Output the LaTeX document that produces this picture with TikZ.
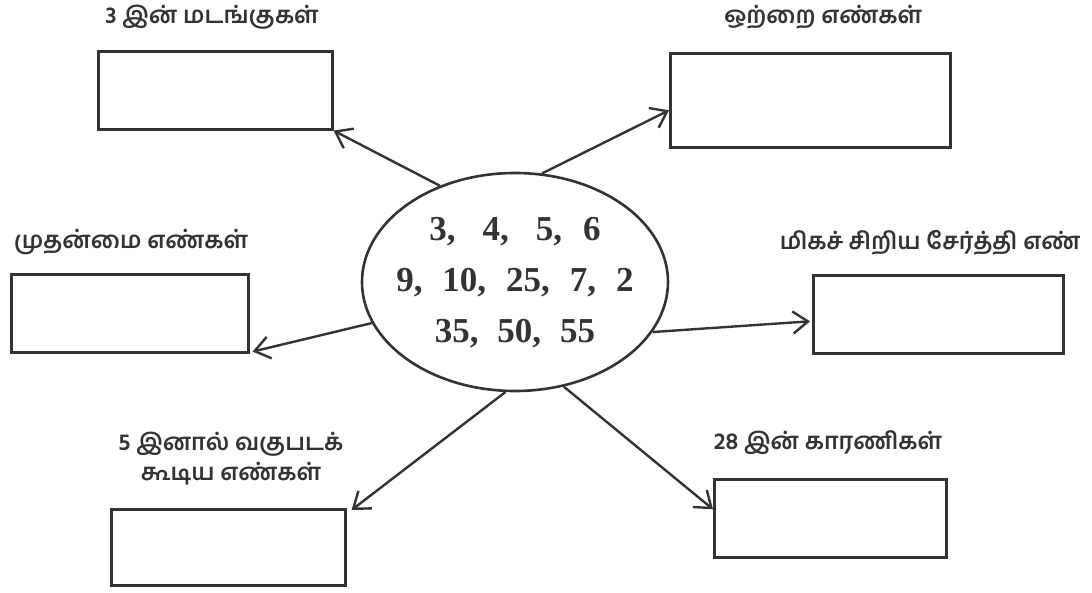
\documentclass[tikz,border=0pt]{standalone}
\usepackage{fontspec}
\usetikzlibrary{shapes.geometric,arrows.meta,calc}
\setmainfont{Liberation Serif}
\newfontfamily\tamilfont[Script=Tamil]{Hind Madurai}
\definecolor{ink}{HTML}{333333}
\begin{document}
\begin{tikzpicture}[x=1pt,y=-1pt,
  box/.style={draw=ink,line width=2.6pt,rectangle,inner sep=0pt,anchor=north west},
  lbl/.style={text=ink,font=\tamilfont\bfseries\fontsize{23.5}{30}\selectfont,inner sep=0pt,align=center},
  conn/.style={draw=ink,line width=2.4pt,-{Straight Barb[length=15pt,width=22pt,line width=2.4pt]}}]
\useasboundingbox[fill=white] (0,0) rectangle (1092,592);
% boxes
\node[box,minimum width=234pt,minimum height=78pt] (b1) at (97,50) {};
\node[box,minimum width=280pt,minimum height=94pt] (b2) at (669,52) {};
\node[box,minimum width=237pt,minimum height=78pt] (b3) at (10,273) {};
\node[box,minimum width=250pt,minimum height=78pt] (b4) at (812,274) {};
\node[box,minimum width=234pt,minimum height=76pt] (b5) at (110,508) {};
\node[box,minimum width=232pt,minimum height=78pt] (b6) at (713,478) {};
% labels
\node[lbl] (l1) at (212,17) {3 இன் மடங்குகள்};
\node[lbl] (l2) at (823,17) {ஒற்றை எண்கள்};
\node[lbl] (l3) at (131,242) {முதன்மை எண்கள்};
\node[lbl] (l4) at (930,243) {மிகச் சிறிய சேர்த்தி எண்};
\node[lbl] (l5) at (231,459) {5 இனால் வகுபடக்\\கூடிய எண்கள்};
\node[lbl] (l6) at (828,443) {28 இன் காரணிகள்};
% centre
\node[ellipse,draw=ink,line width=2.6pt,minimum width=306pt,minimum height=218pt,inner sep=0pt] (e) at (515,282) {};
\node[text=ink,font=\bfseries\fontsize{35}{51}\selectfont,align=center,inner sep=0pt] (nums) at ([yshift=-1pt]e.center)
  {3,\hspace{27pt}4,\hspace{27pt}5,\hspace{21pt}6\\
   9,\hspace{20pt}10,\hspace{20pt}25,\hspace{20pt}7,\hspace{20pt}2\\
   35,\hspace{19pt}50,\hspace{19pt}55};
% connectors
\draw[conn] (e.128) -- (b1.south east);
\draw[conn] (e.76) -- ([yshift=-10pt]b2.west);
\draw[conn] (e.196) -- ([xshift=3pt,yshift=2pt]b3.south east);
\draw[conn] (e.-20) -- ([xshift=-2pt,yshift=-7pt]b4.west);
\draw[conn] (e.265) -- ([xshift=5pt,yshift=-2pt]b5.north east);
\draw[conn] (e.-65) -- ([yshift=9pt]b6.west);
\end{tikzpicture}
\end{document}
